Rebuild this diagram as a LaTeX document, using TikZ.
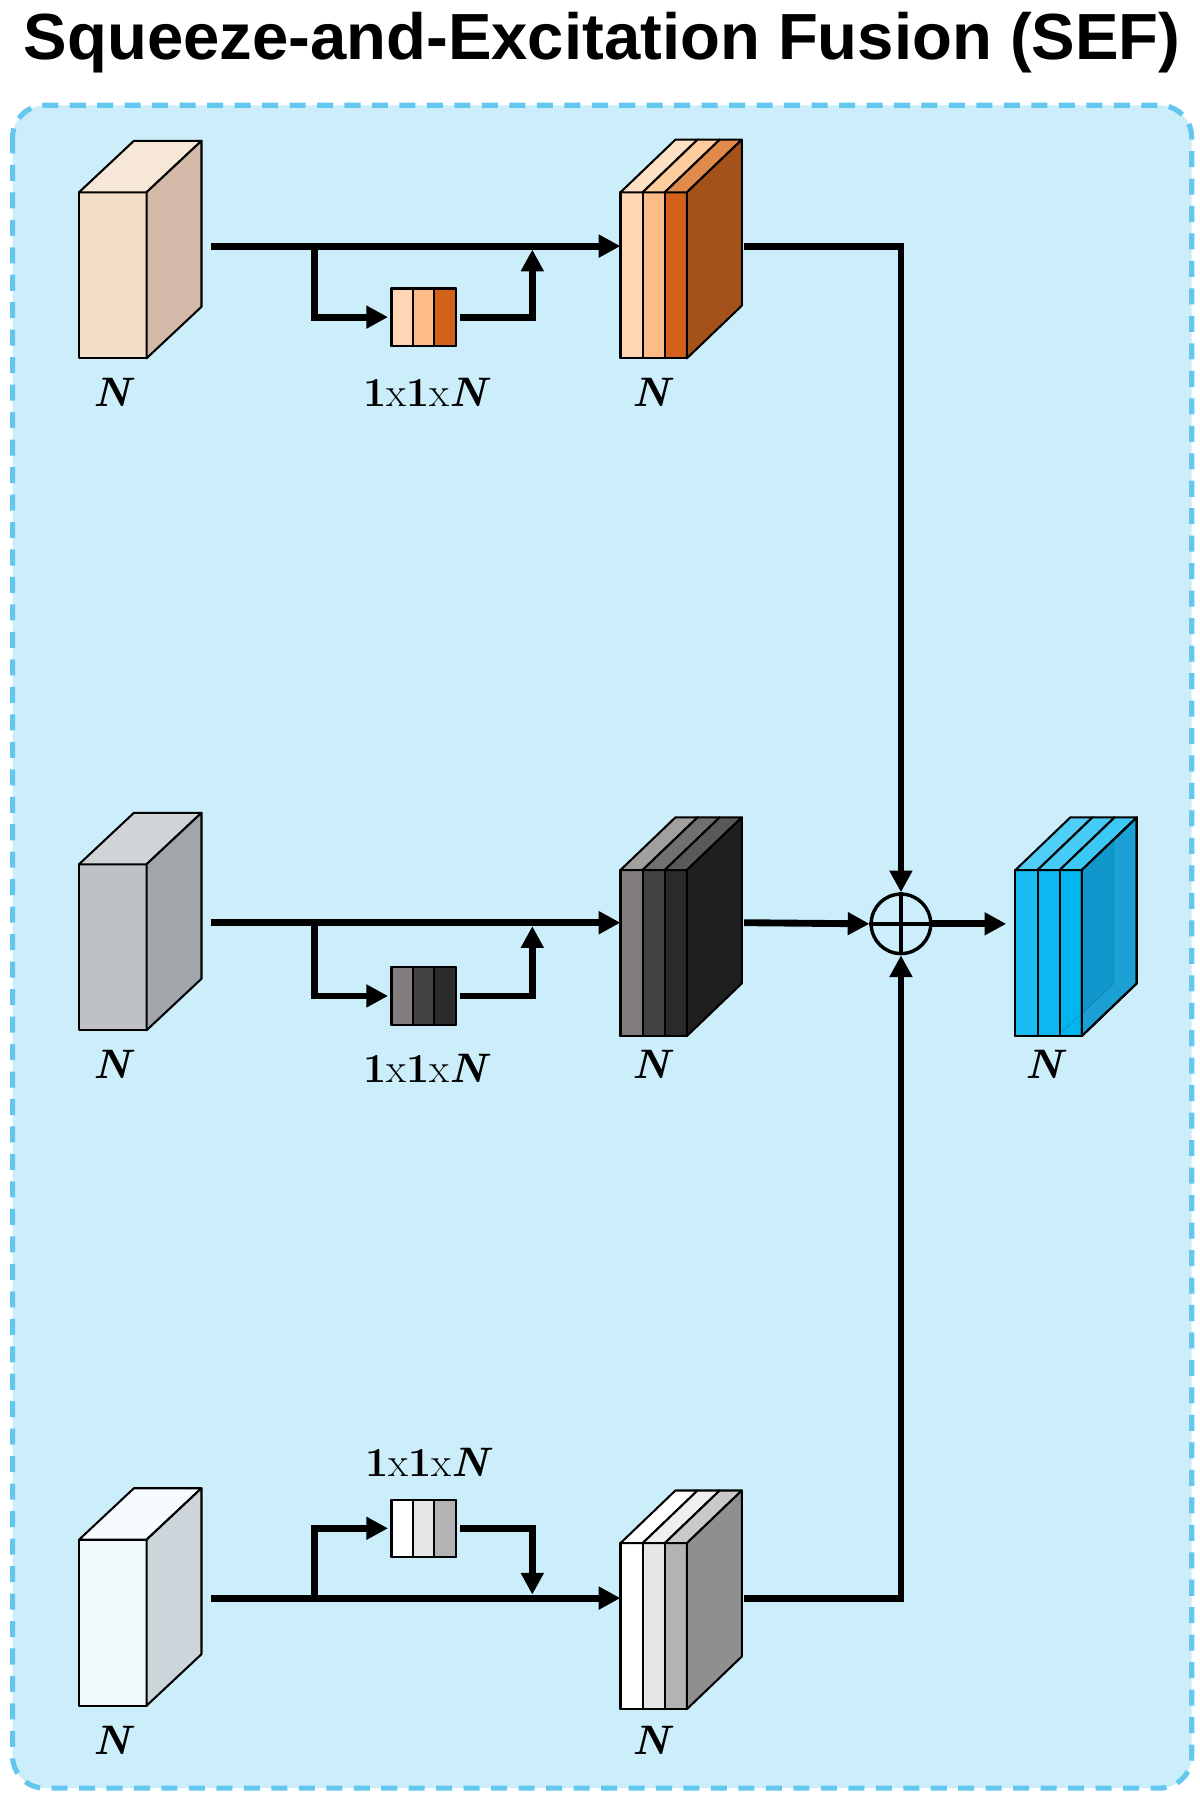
\documentclass[tikz,border=0pt]{standalone}
\usepackage{fontspec}
\usetikzlibrary{arrows.meta}
\newfontfamily\titlefont{Liberation Sans}
% colours
\definecolor{bgblue}{HTML}{CBEEFA}
\definecolor{dashblue}{HTML}{63C7EF}
% top row
\definecolor{pkf}{HTML}{F5DEC8}\definecolor{pkt}{HTML}{F6E7D8}\definecolor{pks}{HTML}{D3BAA8}
\definecolor{or0}{HTML}{FFD6B3}\definecolor{or1}{HTML}{FDBB88}\definecolor{or2}{HTML}{D2621B}
\definecolor{ort0}{HTML}{FFE2C6}\definecolor{ort1}{HTML}{FFCC9E}\definecolor{ort2}{HTML}{E08A4C}
\definecolor{ors}{HTML}{A5511A}
% middle row
\definecolor{gyf}{HTML}{BEC2C5}\definecolor{gyt}{HTML}{D1D4D6}\definecolor{gys}{HTML}{A0A6A9}
\definecolor{gr0}{HTML}{827D7D}\definecolor{gr1}{HTML}{434141}\definecolor{gr2}{HTML}{2B2A2A}
\definecolor{grt0}{HTML}{A29F9F}\definecolor{grt1}{HTML}{717070}\definecolor{grt2}{HTML}{5A5959}
\definecolor{grs}{HTML}{1F1F1F}
% bottom row
\definecolor{ltf}{HTML}{F1F9FC}\definecolor{ltt}{HTML}{F6FBFE}\definecolor{lts}{HTML}{CCD6DA}
\definecolor{wh0}{HTML}{FFFFFF}\definecolor{wh1}{HTML}{E6E6E6}\definecolor{wh2}{HTML}{B3B3B3}
\definecolor{wht0}{HTML}{FFFFFF}\definecolor{wht1}{HTML}{EFEFEF}\definecolor{wht2}{HTML}{C9C9C9}
\definecolor{whs}{HTML}{8F8F8F}
% output
\definecolor{bl0}{HTML}{1ABBF2}\definecolor{bl1}{HTML}{0DB8F1}\definecolor{bl2}{HTML}{03B5EF}
\definecolor{blt0}{HTML}{4FCEF7}\definecolor{blt1}{HTML}{45CBF6}\definecolor{blt2}{HTML}{3CC8F5}
\definecolor{bls}{HTML}{1AA0D3}
\definecolor{blin}{HTML}{0C94C9}

\tikzset{
  edge/.style={draw=black, line width=1.8pt, line join=round},
  face/.style={edge, rectangle, inner sep=0pt, outer sep=0pt},
  conn/.style={line width=6pt, line join=miter},
  arr/.style={conn, -{Triangle[length=19pt,width=19pt]}},
  lbl/.style={font=\fontsize{36}{40}\selectfont, inner sep=0pt},
}

\newcommand\plaincube[6]{%
  \node[face, fill=#4, minimum width=59pt, minimum height=145pt, anchor=north west] (#1) at (#2,#3) {};
  \filldraw[edge, fill=#5] (#1.north west) -- ++(48,-45) -- ++(59,0) -- (#1.north east) -- cycle;
  \filldraw[edge, fill=#6] (#1.north east) -- ++(48,-45) -- ++(0,145) -- (#1.south east) -- cycle;
}
\newcommand\stackcube[4]{%
  \node[face, minimum width=58pt, minimum height=145pt, anchor=north west] (#1) at (#2,#3) {};
  \filldraw[edge, fill=#40] (#1.north west) rectangle ++(19.333,145);
  \filldraw[edge, fill=#41] ([xshift=19.333pt]#1.north west) rectangle ++(19.333,145);
  \filldraw[edge, fill=#42] ([xshift=38.667pt]#1.north west) rectangle ++(19.333,145);
  \filldraw[edge, fill=#4t0] (#1.north west) -- ++(48,-46) -- ++(19.333,0) -- ++(-48,46) -- cycle;
  \filldraw[edge, fill=#4t1] ([xshift=19.333pt]#1.north west) -- ++(48,-46) -- ++(19.333,0) -- ++(-48,46) -- cycle;
  \filldraw[edge, fill=#4t2] ([xshift=38.667pt]#1.north west) -- ++(48,-46) -- ++(19.333,0) -- ++(-48,46) -- cycle;
  \filldraw[edge, fill=#4s] (#1.north east) -- ++(48,-46) -- ++(0,145) -- (#1.south east) -- cycle;
}
\newcommand\sebox[4]{%
  \node[face, minimum width=56pt, minimum height=50pt] (#1) at (#2,#3) {};
  \filldraw[edge, fill=#40] (#1.north west) rectangle ++(18.667,50);
  \filldraw[edge, fill=#41] ([xshift=18.667pt]#1.north west) rectangle ++(18.667,50);
  \filldraw[edge, fill=#42] ([xshift=37.333pt]#1.north west) rectangle ++(18.667,50);
}

\begin{document}
\begin{tikzpicture}[x=1pt,y=-1pt]
\useasboundingbox (0,0) rectangle (1048,1568);
\fill[white] (0,0) rectangle (1048,1568);

% title
\node[anchor=base, inner sep=0pt, font=\titlefont\bfseries\fontsize{57}{60}\selectfont] (title) at (526,52) {Squeeze-and-Excitation Fusion (SEF)};

% panel
\draw[dashblue, fill=bgblue, line width=4.5pt, dash pattern=on 14pt off 10pt, rounded corners=28pt] (11,92) rectangle (1041,1562);

% ---------- top row ----------
\plaincube{in1}{69}{168}{pkf}{pkt}{pks}
\stackcube{out1}{542}{168}{or}
\sebox{se1}{370}{277}{or}
\node[lbl] (n1a) at (98,343) {\bfseries\itshape N};
\node[lbl] (s1) at (371,343) {{\bfseries 1}x{\bfseries 1}x{\bfseries\itshape N}};
\node[lbl] (n1b) at (569,343) {\bfseries\itshape N};

% ---------- middle row ----------
\plaincube{in2}{69}{755}{gyf}{gyt}{gys}
\stackcube{out2}{542}{760}{gr}
\sebox{se2}{370}{870}{gr}
\node[lbl] (n2a) at (98,930) {\bfseries\itshape N};
\node[lbl] (s2) at (371,933) {{\bfseries 1}x{\bfseries 1}x{\bfseries\itshape N}};
\node[lbl] (n2b) at (569,930) {\bfseries\itshape N};

% ---------- bottom row ----------
\plaincube{in3}{69}{1345}{ltf}{ltt}{lts}
\stackcube{out3}{542}{1348}{wh}
\sebox{se3}{370}{1335}{wh}
\node[lbl] (n3a) at (98,1520) {\bfseries\itshape N};
\node[lbl] (s3) at (373,1277) {{\bfseries 1}x{\bfseries 1}x{\bfseries\itshape N}};
\node[lbl] (n3b) at (569,1520) {\bfseries\itshape N};

% ---------- fused output ----------
\stackcube{fin}{887}{760}{bl}
% inner back panel seen through the translucent stack
\fill[blin, opacity=0.7] (fin.north east) -- ++(28,-27) -- ++(0,126) -- ([yshift=19pt]fin.south east) -- cycle;
\draw[blin!70!black, line width=0.6pt, opacity=0.4] ([xshift=28pt,yshift=27pt]fin.north east) -- ++(0,126) -- ++(-47,44);
\draw[edge, fill=none] (fin.north east) -- ++(48,-46) -- ++(0,145) -- (fin.south east) -- cycle;
\node[lbl] (n4) at (912,930) {\bfseries\itshape N};

% sum node
\node[draw, circle, line width=3pt, minimum size=52pt, inner sep=0pt] (sum) at (787,807) {};
\draw[line width=3pt] (sum.north) -- (sum.south) (sum.west) -- (sum.east);

% ---------- connectors ----------
\coordinate (a1) at (184,215);
\coordinate (b1) at (275,215);
\coordinate (m1) at (465,218);
\coordinate (o1) at (650,215);
\draw[arr] (a1) -- (a1 -| out1.west);
\draw[arr, shorten >=3pt] (b1) |- (se1.west);
\draw[arr, shorten <=4pt] (se1.east) -| (m1);
\draw[arr] (o1) -| (sum.north);

\coordinate (a2) at (184,806);
\coordinate (b2) at (275,806);
\coordinate (m2) at (465,809);
\coordinate (o2) at (650,806);
\draw[arr] (a2) -- (a2 -| out2.west);
\draw[arr, shorten >=3pt] (b2) |- (se2.west);
\draw[arr, shorten <=4pt] (se2.east) -| (m2);
\draw[arr] (o2) -- (sum.west);
\draw[arr, shorten >=8pt] (sum.east) -- (sum.east -| fin.west);

\coordinate (a3) at (184,1396);
\coordinate (b3) at (275,1396);
\coordinate (m3) at (465,1393);
\coordinate (o3) at (650,1396);
\draw[arr] (a3) -- (a3 -| out3.west);
\draw[arr, shorten >=3pt] (b3) |- (se3.west);
\draw[arr, shorten <=4pt] (se3.east) -| (m3);
\draw[arr] (o3) -| (sum.south);
\end{tikzpicture}
\end{document}
